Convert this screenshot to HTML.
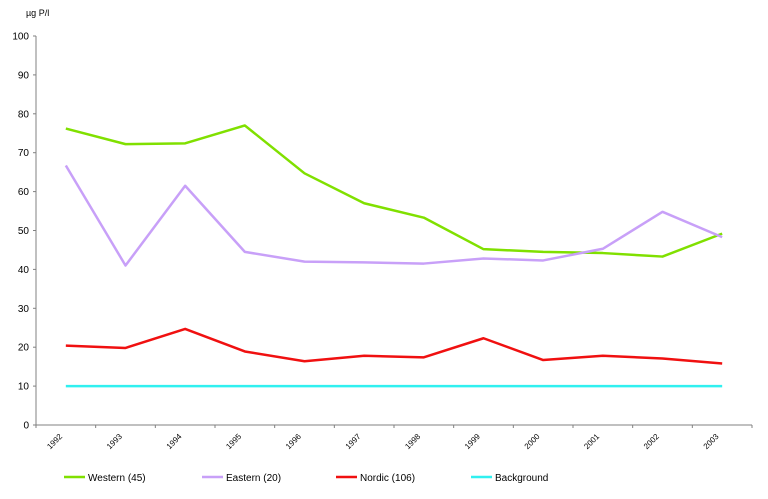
<!DOCTYPE html>
<html><head><meta charset="utf-8"><style>
body{margin:0;background:#fff;}
svg{display:block;font-family:"Liberation Sans",Arial,sans-serif;}
</style></head><body>
<svg id="chart" width="768" height="499" viewBox="0 0 768 499">
<text x="26" y="16" font-size="9">µg P/l</text>
<g id="axes"></g><g id="series"></g>
<g id="legend"></g>
</svg>
<script>
const years=["1992","1993","1994","1995","1996","1997","1998","1999","2000","2001","2002","2003"];
const western=[76.2,72.2,72.4,77,64.7,57,53.3,45.2,44.5,44.2,43.3,49.2];
const eastern=[66.7,41,61.5,44.5,42,41.8,41.5,42.8,42.3,45.3,54.8,48.3];
const nordic=[20.4,19.8,24.7,18.9,16.4,17.8,17.4,22.3,16.7,17.8,17.1,15.8];
const background=[10,10,10,10,10,10,10,10,10,10,10,10];
const yTicks=[0,10,20,30,40,50,60,70,80,90,100];
const seriesNames=["Western (45)","Eastern (20)","Nordic (106)","Background"];
const ns="http://www.w3.org/2000/svg";
const X0=36,X1=752,Y0=425,Y1=36;
const step=(X1-X0)/years.length;
const xs=i=>X0+step*(i+0.5);
const ys=v=>Y0-(v/100)*(Y0-Y1);
function mk(t,a,p){const e=document.createElementNS(ns,t);for(const k in a)e.setAttribute(k,a[k]);p.appendChild(e);return e;}
const ax=document.getElementById('axes');
let yl=mk('line',{x1:X0,y1:Y1,x2:X0,y2:Y0,stroke:'#808080','stroke-width':1},ax);


let xl=mk('line',{x1:X0,y1:Y0,x2:X1,y2:Y0,stroke:'#808080','stroke-width':1},ax);


yTicks.forEach(v=>{
 mk('line',{x1:X0-3,y1:ys(v),x2:X0,y2:ys(v),stroke:'#808080'},ax);
 const t=mk('text',{x:X0-7,y:ys(v)+3.5,'font-size':10,'text-anchor':'end'},ax);
 t.textContent=v;
 
 
});
for(let i=0;i<=years.length;i++)mk('line',{x1:X0+step*i,y1:Y0,x2:X0+step*i,y2:Y0+3,stroke:'#808080'},ax);
years.forEach((y,i)=>{
 const x=xs(i)-3,yy=Y0+12;
 const t=mk('text',{x:x,y:yy,'font-size':8,'text-anchor':'end',transform:`rotate(-45 ${x} ${yy})`},ax);
 t.textContent=y;
 
 
});
const sg=document.getElementById('series');
const all=[[western,'#80e000','western-line'],[eastern,'#c8a0f8','eastern-line'],[nordic,'#f01010','nordic-line'],[background,'#30f0f0','background-line']];
all.forEach(([d,c,n])=>{
 const p=mk('polyline',{points:d.map((v,i)=>xs(i)+','+ys(v)).join(' '),fill:'none',stroke:c,'stroke-width':2.5,'stroke-linejoin':'round'},sg);
 
 
});
const lg=document.getElementById('legend');
const lx=[64,202,336,471];
all.forEach(([d,c],i)=>{
 const g=mk('g',{},lg);
 
 
 mk('line',{x1:lx[i],y1:477,x2:lx[i]+21,y2:477,stroke:c,'stroke-width':2.5},g);
 const t=mk('text',{x:lx[i]+24,y:481,'font-size':10},g);
 t.textContent=seriesNames[i];
});
</script>
</body></html>
